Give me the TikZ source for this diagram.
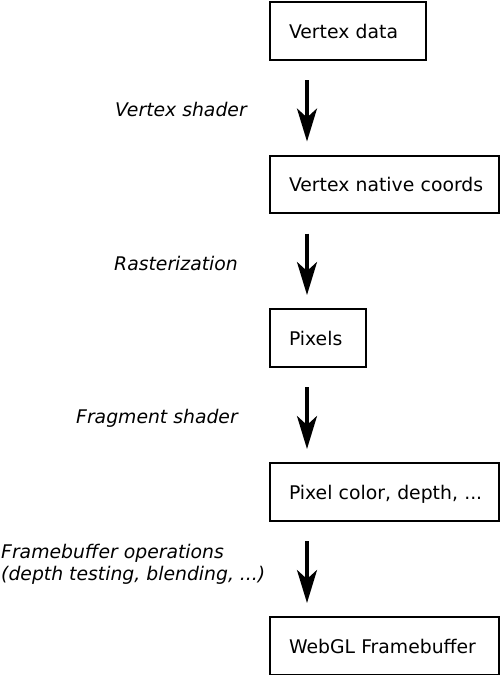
\documentclass[tikz,border=0pt]{standalone}
\usepackage{fontspec}
\setmainfont{DejaVu Sans}
\usetikzlibrary{arrows.meta}

\begin{document}
\begin{tikzpicture}[x=1pt,y=-1pt, font=\fontsize{18.8}{22.4}\selectfont,
  stage/.style={draw, line width=2pt, anchor=north west, inner xsep=19pt, inner ysep=0pt,
    minimum height=57.5pt, align=left, text height=2.7ex, text depth=0pt},
  pass/.style={-{Stealth[length=33pt,width=20pt,inset=9pt]}, line width=3.3pt,
    shorten <=19.5pt, shorten >=13pt},
  passlabel/.style={anchor=base west, inner sep=0pt, font=\fontsize{18.8}{22.4}\selectfont\itshape}]

\useasboundingbox (0,0) rectangle (500,675);

% pipeline stages
\node[stage, text width=117.5pt] (vdata)    at (269,1)     {Vertex data};
\node[stage, text width=190.5pt] (vcoords)  at (269,154.5) {\mbox{Vertex native coords}};
\node[stage, text width=57.5pt]  (pixels)   at (269,308)   {Pixels};
\node[stage, text width=190.5pt] (pcolor)   at (269,462)   {\mbox{Pixel color, depth, ...}};
\node[stage, text width=190.5pt] (framebuf) at (269,616)   {\mbox{WebGL Framebuffer}};

\draw[pass] ([xshift=38pt]vdata.south west)  -- ([xshift=38pt]vcoords.north west);
\draw[pass] ([xshift=38pt]vcoords.south west) -- ([xshift=38pt]pixels.north west);
\draw[pass] ([xshift=38pt]pixels.south west)  -- ([xshift=38pt]pcolor.north west);
\draw[pass] ([xshift=38pt]pcolor.south west)  -- ([xshift=38pt]framebuf.north west);

\node[passlabel] (vshader) at (115,116.5) {Vertex shader};
\node[passlabel] (raster)  at (114,270)   {Rasterization};
\node[passlabel] (fshader) at (76,423.3)  {Fragment shader};
\node[passlabel, align=left] (fbops) at (1,580.7) {Framebuffer operations\\(depth testing, blending, ...)};

\end{tikzpicture}
\end{document}
